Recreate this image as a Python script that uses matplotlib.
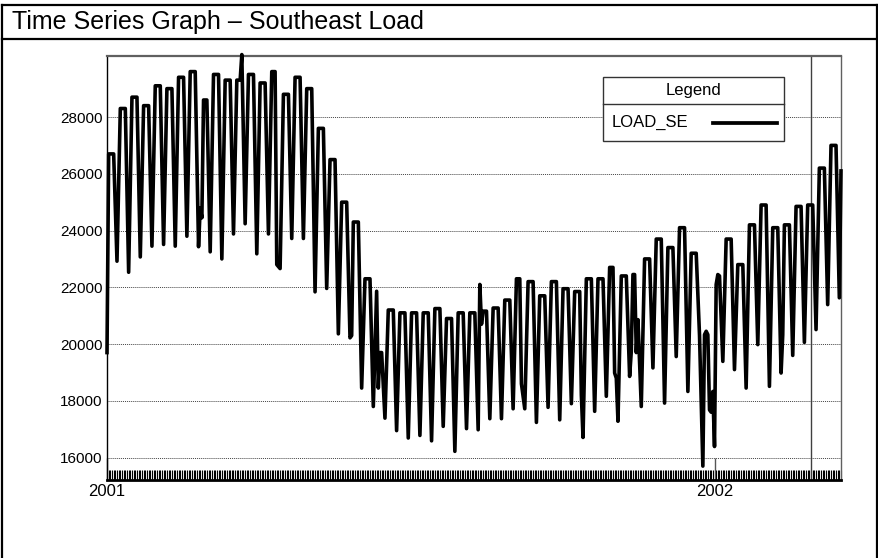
import datetime as dt
import matplotlib
matplotlib.use("Agg")
import matplotlib.pyplot as plt
import matplotlib.dates as mdates
from matplotlib.lines import Line2D
from matplotlib.patches import Rectangle

plt.rcParams['font.family'] = ['Liberation Sans', 'DejaVu Sans']

# ---------------- data ----------------
title = "Time Series Graph \u2013 Southeast Load"
series_name = "LOAD_SE"
start_date = "2001-01-01"          # Monday of week 0
marker_date = "2002-02-28"         # vertical reference line

# mid-week (Tue-Fri) level for each week, starting Monday 2001-01-01
weekly_peak = [26700, 28300, 28700, 28400, 29100, 29000, 29400, 29600, 28600, 29500,
               29300, 29300, 29500, 29200, 29600, 28800, 29400, 29000, 27600, 26500,
               25000, 24300, 22300, 21860, 21200, 21100, 21100, 21100, 21250, 20900,
               21100, 21100, 21160, 21270, 21550, 22300, 22200, 21700, 22200, 21950,
               21850, 22300, 22300, 22700, 22400, 22450, 23000, 23700, 23400, 24100,
               23200, 20450, 22400, 23700, 22800, 24200, 24900, 24100, 24200, 24850,
               24900, 26200, 27000]
# Sunday level closing each week
weekly_trough = [22920, 22530, 23070, 23450, 23510, 23450, 23800, 23430, 23250, 23000,
                 23880, 24240, 23180, 23880, 22660, 23720, 23720, 21840, 21960, 20360,
                 20220, 18450, 17800, 17390, 16950, 16690, 16780, 16590, 17100, 16220,
                 17020, 16980, 17370, 17370, 17720, 17720, 17240, 17770, 17330, 17900,
                 16710, 17630, 18160, 17280, 18860, 17800, 19160, 17920, 19560, 18330,
                 20300, 17600, 19390, 19100, 18450, 19980, 18510, 18980, 19600, 20060,
                 20510, 21390, 21630]
# individual days that depart from the weekly pattern (holidays etc.)
special_dates = ["2001-01-01", "2001-02-26", "2001-02-27", "2001-03-23", "2001-04-13",
                 "2001-05-28", "2001-06-13", "2001-06-14", "2001-06-15", "2001-08-13",
                 "2001-08-14", "2001-09-07", "2001-10-13", "2001-11-02", "2001-11-03",
                 "2001-11-12", "2001-11-15", "2001-11-16", "2001-12-24", "2001-12-25",
                 "2001-12-26", "2001-12-27", "2001-12-28", "2001-12-29", "2001-12-31",
                 "2002-01-01", "2002-01-02", "2002-01-03", "2002-02-11", "2002-03-18"]
special_vals = [19700, 24800, 24450, 30200, 22800,
                20300, 18450, 19700, 19700, 22100,
                20700, 18600, 18200, 18980, 18800,
                19740, 19700, 20860, 18000, 15700,
                20330, 20450, 20330, 17680, 18330,
                16390, 22100, 22450, 20330, 26100]

y_ticks = [16000, 18000, 20000, 22000, 24000, 26000, 28000]
y_limits = (15210, 30150)

# ---------------- build daily series ----------------
d0 = dt.date.fromisoformat(start_date)
vals = {}
for k, (p, t) in enumerate(zip(weekly_peak, weekly_trough)):
    for wd in (1, 2, 3, 4):
        vals[d0 + dt.timedelta(days=7 * k + wd)] = p
    vals[d0 + dt.timedelta(days=7 * k + 6)] = t
for s, v in zip(special_dates, special_vals):
    vals[dt.date.fromisoformat(s)] = v
dates = sorted(vals)
values = [vals[d] for d in dates]

# ---------------- figure ----------------
fig = plt.figure(figsize=(8.79, 5.58), dpi=100)
fig.patch.set_facecolor('white')

W, H = 879.0, 558.0
def fx(px): return px / W
def fy(py): return 1 - py / H

# outer frame and title band
for (x1, y1, x2, y2) in [(2, 5, 877, 5), (2, 5, 2, 558), (877, 5, 877, 558), (2, 39, 877, 39)]:
    fig.add_artist(Line2D([fx(x1), fx(x2)], [fy(y1), fy(y2)], color='black', lw=1.6,
                          transform=fig.transFigure))
fig.text(fx(12), fy(22), title, fontsize=18, ha='left', va='center', color='black')

ax = fig.add_axes([fx(107), fy(480), fx(841) - fx(107), fy(56) - fy(480)])
ax.plot(dates, values, color='black', lw=2.6, solid_joinstyle='round', clip_on=False, zorder=3)

ax.axvline(dt.date.fromisoformat(marker_date), color='#404040', lw=1.0, zorder=2)

ax.set_ylim(*y_limits)
ax.set_xlim(d0, dates[-1])
ax.set_yticks(y_ticks)
ax.set_yticklabels([str(v) for v in y_ticks])
ax.yaxis.grid(True, linestyle=(0, (1, 1)), color='#444444', lw=0.7, zorder=1)
ax.tick_params(axis='y', length=0, pad=3, labelsize=11)

ax.xaxis.set_major_locator(mdates.YearLocator())
ax.xaxis.set_major_formatter(mdates.DateFormatter('%Y'))
ax.xaxis.set_minor_locator(mdates.DayLocator())
ax.tick_params(axis='x', which='major', direction='in', length=16, width=1.0,
               color='#555555', labelsize=12, pad=3)
ax.tick_params(axis='x', which='minor', direction='in', length=7.2, width=0.8, color='black')

for side in ['top', 'right']:
    ax.spines[side].set_color('#606060')
ax.spines['top'].set_linewidth(1.6)
ax.spines['right'].set_linewidth(1.0)
ax.spines['left'].set_color('black')
ax.spines['left'].set_linewidth(1.0)
ax.spines['bottom'].set_color('black')
ax.spines['bottom'].set_linewidth(2.0)

# legend box (drawn by hand to match the boxed header style)
lx0, lx1 = 0.6757, 0.9223
ly0, ly1, lmid = 0.7995, 0.9505, 0.8868
ax.add_patch(Rectangle((lx0, ly0), lx1 - lx0, ly1 - ly0, transform=ax.transAxes,
                       facecolor='white', edgecolor='#333333', lw=1.0, zorder=5))
ax.add_line(Line2D([lx0, lx1], [lmid, lmid], transform=ax.transAxes, color='#333333',
                   lw=1.0, zorder=6))
ax.text((lx0 + lx1) / 2, 0.919, "Legend", transform=ax.transAxes, ha='center', va='center',
        fontsize=12, zorder=7)
ax.text(0.687, 0.843, series_name, transform=ax.transAxes, ha='left', va='center',
        fontsize=12, zorder=7)
ax.add_line(Line2D([0.8256, 0.9128], [0.843, 0.843], transform=ax.transAxes, color='black',
                   lw=2.7, zorder=7))

fig.savefig('out.png', dpi=100, facecolor='white')
